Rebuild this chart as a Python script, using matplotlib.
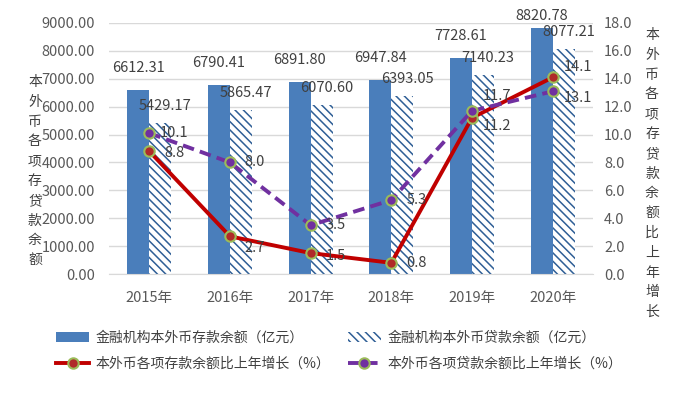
import matplotlib
matplotlib.use("Agg")
import matplotlib.pyplot as plt
import numpy as np
from matplotlib.patches import Patch
from matplotlib.lines import Line2D

plt.rcParams['font.family'] = ['Liberation Sans Narrow', 'Noto Sans CJK SC', 'DejaVu Sans']
plt.rcParams['hatch.linewidth'] = 1.1

years = ['2015年', '2016年', '2017年', '2018年', '2019年', '2020年']
deposits = [6612.31, 6790.41, 6891.80, 6947.84, 7728.61, 8820.78]
loans = [5429.17, 5865.47, 6070.60, 6393.05, 7140.23, 8077.21]
dep_growth = [8.8, 2.7, 1.5, 0.8, 11.2, 14.1]
loan_growth = [10.1, 8.0, 3.5, 5.3, 11.7, 13.1]

left_ticks = [0, 1000, 2000, 3000, 4000, 5000, 6000, 7000, 8000, 9000]
right_ticks = [0, 2, 4, 6, 8, 10, 12, 14, 16, 18]

leg_dep = '金融机构本外币存款余额（亿元）'
leg_loan = '金融机构本外币贷款余额（亿元）'
leg_dep_g = '本外币各项存款余额比上年增长（%）'
leg_loan_g = '本外币各项贷款余额比上年增长（%）'
ylabel_left = '本外币各项存贷款余额'
ylabel_right = '本外币各项存贷款余额比上年增长'

# label pixel offsets (style)
dep_g_dy = [-2, -12, -3, 0, -8, 10]
loan_g_dy = [0, 0, 0, 0, 15, -7]

W, H = 682, 394
fig = plt.figure(figsize=(W / 100, H / 100), dpi=100)
ax = fig.add_axes([109 / W, 1 - 274 / H, (593 - 109) / W, (274 - 23) / H])
ax2 = ax.twinx()

blue = '#4A7EBB'
hatch_col = '#2F5F96'
red = '#C00000'
purple = '#7030A0'
green = '#9BBB59'
txt = '#404040'
HATCH = '\\\\\\\\'

x = np.arange(len(years))
bw = 0.272
ax.bar(x - bw / 2, deposits, bw, color=blue, zorder=2)
ax.bar(x + bw / 2, loans, bw, facecolor='white', edgecolor=hatch_col, linewidth=0,
       hatch=HATCH, zorder=2)

ax.set_xlim(-0.5, len(years) - 0.5)
ax.set_ylim(0, 9000)
ax.set_yticks(left_ticks)
ax.set_yticklabels([f'{v:.2f}' for v in left_ticks])
ax.set_xticks(x)
ax.set_xticklabels(years)
ax.grid(axis='y', color='#D9D9D9', linewidth=1, zorder=0)
ax.set_axisbelow(True)
for s in ['top', 'left', 'right']:
    ax.spines[s].set_visible(False)
ax.spines['bottom'].set_color('#D9D9D9')
ax.tick_params(axis='both', length=0, labelsize=10.5, labelcolor='#595959')
ax.tick_params(axis='y', pad=10)
ax.tick_params(axis='x', pad=12)

ax2.set_ylim(0, 18)
ax2.set_yticks(right_ticks)
ax2.set_yticklabels([f'{v:.1f}' for v in right_ticks])
for s in ['top', 'left', 'right', 'bottom']:
    ax2.spines[s].set_visible(False)
ax2.tick_params(axis='y', length=0, labelsize=10.5, labelcolor='#595959', pad=8)

ax2.plot(x, dep_growth, color=red, lw=2.8, marker='o', ms=7.5, mfc='#B02A2A',
         mec=green, mew=1.5, zorder=5)
ax2.plot(x, loan_growth, color=purple, lw=2.8, ls=(0, (3, 1.6)), marker='o', ms=7.5,
         mfc=purple, mec=green, mew=1.5, zorder=6)

for i in range(len(years)):
    ax.annotate(f'{deposits[i]:.2f}', (x[i] - bw / 2, deposits[i]), xytext=(0, 22 if i < 5 else 12),
                textcoords='offset pixels', ha='center', va='center', fontsize=10.5, color=txt)
    ax.annotate(f'{loans[i]:.2f}', (x[i] + bw / 2, loans[i]), xytext=(5, 17),
                textcoords='offset pixels', ha='center', va='center', fontsize=10.5, color=txt)
    ax2.annotate(f'{dep_growth[i]:.1f}', (x[i], dep_growth[i]), xytext=(25, dep_g_dy[i]),
                 textcoords='offset pixels', ha='center', va='center', fontsize=10.5, color=txt, zorder=7)
    ax2.annotate(f'{loan_growth[i]:.1f}', (x[i], loan_growth[i]), xytext=(25, loan_g_dy[i]),
                 textcoords='offset pixels', ha='center', va='center', fontsize=10.5, color=txt, zorder=7)

# vertical stacked axis titles
for k, ch in enumerate(ylabel_left):
    fig.text(35 / W, 1 - (82 + k * 19.8) / H, ch, ha='center', va='center', fontsize=10,
             color='#404040', family=['Noto Sans CJK SC', 'DejaVu Sans'])
for k, ch in enumerate(ylabel_right):
    fig.text(652 / W, 1 - (35 + k * 19.8) / H, ch, ha='center', va='center', fontsize=10,
             color='#404040', family=['Noto Sans CJK SC', 'DejaVu Sans'])

handles = [
    Patch(facecolor=blue, edgecolor='none'),
    Line2D([], [], color=red, lw=2.8, marker='o', ms=7.5, mfc='#B02A2A', mec=green, mew=1.5),
    Patch(facecolor='white', edgecolor=hatch_col, linewidth=0, hatch=HATCH),
    Line2D([], [], color=purple, lw=2.8, ls=(0, (3, 1.6)), marker='o', ms=7.5, mfc=purple, mec=green, mew=1.5),
]
labels = [leg_dep, leg_dep_g, leg_loan, leg_loan_g]
fig.legend(handles, labels, ncol=2, loc='upper left', bbox_to_anchor=(56 / W, 1 - 331 / H),
           frameon=False, handlelength=2.4, handletextpad=0.45,
           columnspacing=1.25, labelspacing=0.85, borderpad=0, borderaxespad=0,
           prop={'family': ['Noto Sans CJK SC', 'DejaVu Sans'], 'size': 10},
           labelcolor='#404040')

fig.savefig('out.png', dpi=100)
